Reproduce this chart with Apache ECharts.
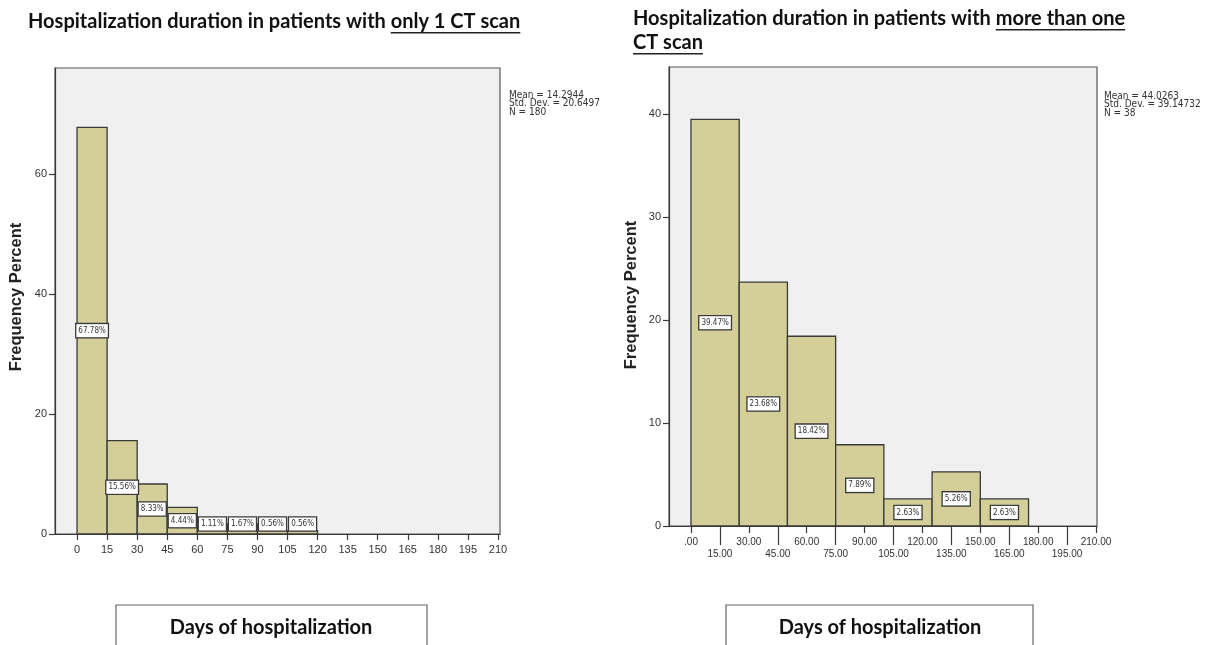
<!DOCTYPE html>
<html>
<head>
<meta charset="utf-8">
<script src="https://cdn.jsdelivr.net/npm/echarts@6/dist/echarts.min.js"></script>
<style>
  html, body { margin: 0; padding: 0; background: #fff; }
  #Chart { width: 1219px; height: 645px; }
</style>
</head>
<body>
<div id="Chart"></div>
<script>
// left histogram: patients with only 1 CT scan
var leftBinStarts = [0, 15, 30, 45, 60, 75, 90, 105];
var leftBinWidth = 15;
var leftPercent = [67.78, 15.56, 8.33, 4.44, 1.11, 1.67, 0.56, 0.56];
var leftXTicks = [0, 15, 30, 45, 60, 75, 90, 105, 120, 135, 150, 165, 180, 195, 210];
var leftYTicks = [0, 20, 40, 60];
var leftStats = ['Mean = 14.2944', 'Std. Dev. = 20.6497', 'N = 180'];

// right histogram: patients with more than one CT scan
var rightBinStarts = [0, 25, 50, 75, 100, 125, 150];
var rightBinWidth = 25;
var rightPercent = [39.47, 23.68, 18.42, 7.89, 2.63, 5.26, 2.63];
var rightXTicks = [0, 15, 30, 45, 60, 75, 90, 105, 120, 135, 150, 165, 180, 195, 210];
var rightXLabels = ['.00', '15.00', '30.00', '45.00', '60.00', '75.00', '90.00', '105.00',
    '120.00', '135.00', '150.00', '165.00', '180.00', '195.00', '210.00'];
var rightYTicks = [0, 10, 20, 30, 40];
var rightStats = ['Mean = 44.0263', 'Std. Dev. = 39.14732', 'N = 38'];

var barColor = '#d4cf98';
var lineColor = '#3a3a3a';
var tickFont = '"Liberation Sans", Arial, sans-serif';
var narrowFont = '"Liberation Sans Narrow", "Arial Narrow", "DejaVu Sans Condensed", sans-serif';
var titleFont = 'Lato, Carlito, Calibri, sans-serif';

// right axis labels sit on two rows: even ticks on the upper row, odd ticks lower
var rightEvenTicks = rightXTicks.filter(function (t, i) { return i % 2 === 0; });
var rightOddTicks = rightXTicks.filter(function (t, i) { return i % 2 === 1; });
function rightLabel(value) {
    return rightXLabels[rightXTicks.indexOf(value)];
}

function binData(starts, width, values) {
    return starts.map(function (s, i) { return [s, s + width, values[i]]; });
}

function histRender(params, api) {
    var x0 = api.value(0), x1 = api.value(1), v = api.value(2);
    var topLeft = api.coord([x0, v]);
    var botRight = api.coord([x1, 0]);
    var mid = (topLeft[1] + botRight[1]) / 2;
    var ly = Math.min(mid, botRight[1] - 10);
    return {
        type: 'group',
        children: [{
            type: 'rect',
            shape: { x: topLeft[0], y: topLeft[1], width: botRight[0] - topLeft[0], height: botRight[1] - topLeft[1] },
            style: { fill: barColor, stroke: lineColor, lineWidth: 1.3 }
        }, {
            type: 'text',
            z2: 20,
            x: (topLeft[0] + botRight[0]) / 2,
            y: ly,
            style: {
                text: v.toFixed(2) + '%',
                align: 'center',
                verticalAlign: 'middle',
                fontSize: 8,
                fontFamily: narrowFont,
                fill: '#333',
                backgroundColor: '#fff',
                borderColor: lineColor,
                borderWidth: 1.3,
                padding: [3, 2, 2, 2]
            }
        }]
    };
}

// title with an underlined tail, measured so the line sits under the words
var measureCtx = document.createElement('canvas').getContext('2d');
function textWidth(str, font) {
    measureCtx.font = font;
    return measureCtx.measureText(str).width;
}
var titleCss = 'bold 20px ' + titleFont;

function titleParts(x, y, plain, underlined) {
    var w1 = plain ? textWidth(plain, titleCss) : 0;
    var w2 = textWidth(underlined, titleCss);
    var els = [];
    if (plain) {
        els.push({ type: 'text', x: x, y: y, style: { text: plain, font: titleCss, fill: '#111', verticalAlign: 'middle' } });
    }
    els.push({ type: 'text', x: x + w1, y: y, style: { text: underlined, font: titleCss, fill: '#111', verticalAlign: 'middle' } });
    els.push({ type: 'rect', shape: { x: x + w1, y: y + 10, width: w2, height: 1.4 }, style: { fill: '#222' } });
    return els;
}

function statsText(x, y, lines) {
    return { type: 'text', x: x, y: y, style: { text: lines.join('\n'), font: '10px ' + narrowFont, lineHeight: 8.5, fill: '#333' } };
}

function yName(x, y) {
    return { type: 'text', x: x, y: y, rotation: Math.PI / 2,
        style: { text: 'Frequency Percent', font: 'bold 16.5px ' + tickFont, fill: '#222', align: 'center', verticalAlign: 'middle' } };
}

function xNameBox(x, width, cx) {
    return [{
        type: 'rect', shape: { x: x, y: 605, width: width, height: 60 },
        style: { fill: '#fff', stroke: '#666', lineWidth: 1.2 }
    }, {
        type: 'text', x: cx, y: 628,
        style: { text: 'Days of hospitalization', font: 'bold 20px ' + titleFont, fill: '#111', align: 'center', verticalAlign: 'middle' }
    }];
}

var graphics = []
    .concat(titleParts(28, 22, 'Hospitalization duration in patients with ', 'only 1 CT scan'))
    .concat(titleParts(633, 19, 'Hospitalization duration in patients with ', 'more than one'))
    .concat(titleParts(633, 43, '', 'CT scan'))
    .concat([statsText(509, 91, leftStats), statsText(1104, 92, rightStats)])
    .concat([yName(16, 297), yName(631, 295)])
    .concat(xNameBox(116, 311, 271))
    .concat(xNameBox(726, 307, 880));

var axisLineStyle = { color: lineColor, width: 1.2 };

var Chart = echarts.init(document.getElementById('Chart'));

var HistOption = {
    backgroundColor: '#fff',
    animation: false,
    grid: [
        { left: 55, top: 68, width: 445, height: 466, show: true, backgroundColor: '#f0f0f0', borderColor: '#555', borderWidth: 1.2 },
        { left: 669, top: 67, width: 428, height: 459, show: true, backgroundColor: '#f0f0f0', borderColor: '#555', borderWidth: 1.2 }
    ],
    xAxis: [{
        type: 'value', gridIndex: 0, min: -11, max: 211,
        splitLine: { show: false },
        axisLine: { onZero: false, lineStyle: axisLineStyle },
        axisTick: { show: true, length: 6, customValues: leftXTicks, lineStyle: axisLineStyle },
        axisLabel: { customValues: leftXTicks, showMaxLabel: true, margin: 10, fontSize: 11, color: '#333', fontFamily: tickFont }
    }, {
        type: 'value', gridIndex: 1, position: 'bottom', min: -11.4, max: 210.5,
        splitLine: { show: false },
        axisLine: { onZero: false, lineStyle: axisLineStyle },
        axisTick: { show: true, length: 7, customValues: rightEvenTicks, lineStyle: axisLineStyle },
        axisLabel: {
            customValues: rightEvenTicks, showMaxLabel: true, showMinLabel: true,
            margin: 11, fontSize: 10, color: '#333', fontFamily: tickFont,
            formatter: rightLabel
        }
    }, {
        type: 'value', gridIndex: 1, position: 'bottom', min: -11.4, max: 210.5,
        splitLine: { show: false },
        axisLine: { show: false, onZero: false },
        axisTick: { show: true, length: 19, customValues: rightOddTicks, lineStyle: axisLineStyle },
        axisLabel: {
            customValues: rightOddTicks, showMaxLabel: true, showMinLabel: true,
            margin: 23, fontSize: 10, color: '#333', fontFamily: tickFont,
            formatter: rightLabel
        }
    }],
    yAxis: [{
        type: 'value', gridIndex: 0, min: 0, max: 77.67,
        splitLine: { show: false },
        axisLine: { show: true, onZero: false, lineStyle: axisLineStyle },
        axisTick: { show: true, length: 6, customValues: leftYTicks, lineStyle: axisLineStyle },
        axisLabel: { customValues: leftYTicks, margin: 8, fontSize: 11, color: '#333', fontFamily: tickFont }
    }, {
        type: 'value', gridIndex: 1, min: 0, max: 44.56,
        splitLine: { show: false },
        axisLine: { show: true, onZero: false, lineStyle: axisLineStyle },
        axisTick: { show: true, length: 6, customValues: rightYTicks, lineStyle: axisLineStyle },
        axisLabel: { customValues: rightYTicks, margin: 8, fontSize: 11, color: '#333', fontFamily: tickFont }
    }],
    series: [{
        name: 'Only 1 CT scan',
        type: 'custom',
        xAxisIndex: 0, yAxisIndex: 0,
        renderItem: histRender,
        encode: { x: [0, 1], y: 2 },
        data: binData(leftBinStarts, leftBinWidth, leftPercent)
    }, {
        name: 'More than one CT scan',
        type: 'custom',
        xAxisIndex: 1, yAxisIndex: 1,
        renderItem: histRender,
        encode: { x: [0, 1], y: 2 },
        data: binData(rightBinStarts, rightBinWidth, rightPercent)
    }],
    graphic: graphics
};

Chart.setOption(HistOption);

window.addEventListener("resize", function () {
    Chart.resize();
});
</script>
</body>
</html>
